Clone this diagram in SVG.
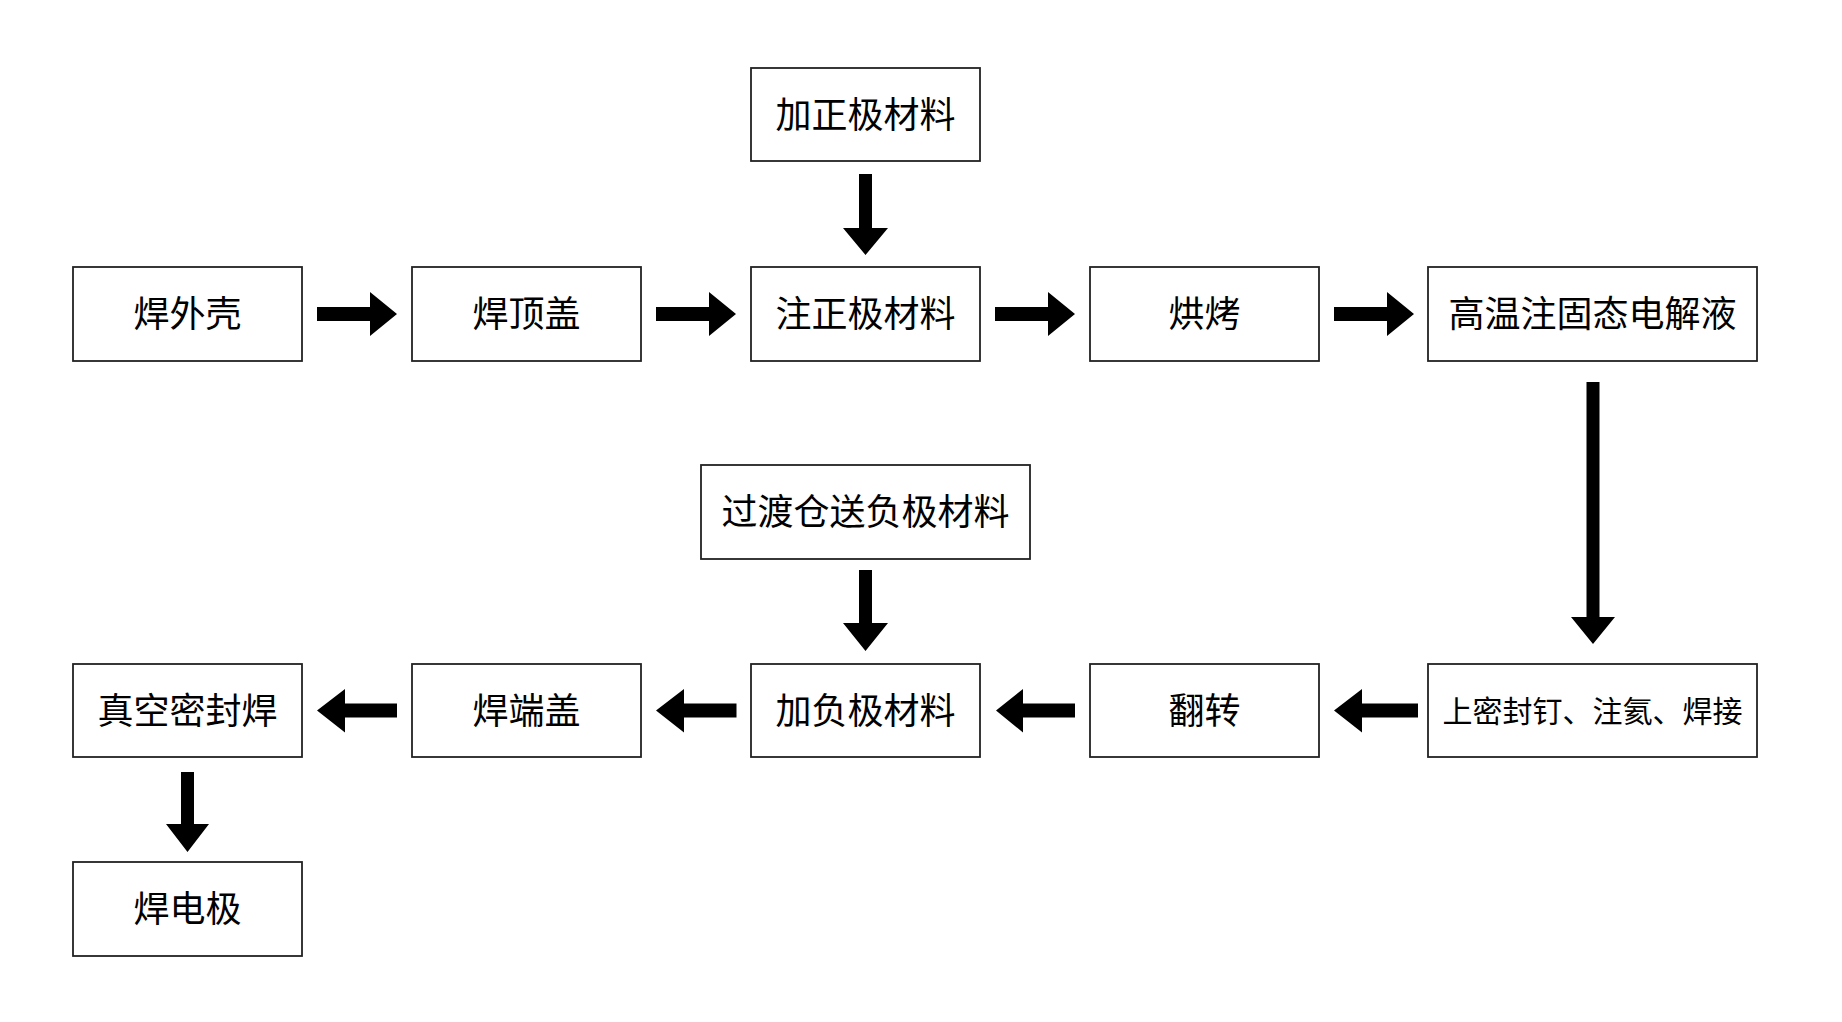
<svg xmlns="http://www.w3.org/2000/svg" width="1842" height="1022" viewBox="0 0 1842 1022">
<style>
.box{fill:#fff;stroke:#222;stroke-width:1.8}
.t{font-family:"Noto Sans CJK SC","Noto Sans",sans-serif;font-size:36px;fill:#000;text-anchor:middle;dominant-baseline:central}
.s{font-size:30px}
.arr{fill:#000}
</style>
<rect width="1842" height="1022" fill="#fff"/>
<g id="n1"><rect class="box" x="73" y="267" width="229" height="94"/><text class="t" x="187.5" y="311">焊外壳</text></g>
<g id="n2"><rect class="box" x="412" y="267" width="229" height="94"/><text class="t" x="526.5" y="311">焊顶盖</text></g>
<g id="n3"><rect class="box" x="751" y="267" width="229" height="94"/><text class="t" x="865.5" y="311">注正极材料</text></g>
<g id="n4"><rect class="box" x="1090" y="267" width="229" height="94"/><text class="t" x="1204.5" y="311">烘烤</text></g>
<g id="n5"><rect class="box" x="1428" y="267" width="329" height="94"/><text class="t" x="1592.5" y="311">高温注固态电解液</text></g>
<g id="n0"><rect class="box" x="751" y="68" width="229" height="93"/><text class="t" x="865.5" y="111.5">加正极材料</text></g>
<g id="n6"><rect class="box" x="1428" y="664" width="329" height="93"/><text class="t s" x="1592.5" y="708.5">上密封钉、注氦、焊接</text></g>
<g id="n7"><rect class="box" x="1090" y="664" width="229" height="93"/><text class="t" x="1204.5" y="707.5">翻转</text></g>
<g id="n8"><rect class="box" x="751" y="664" width="229" height="93"/><text class="t" x="865.5" y="707.5">加负极材料</text></g>
<g id="n9"><rect class="box" x="701" y="465" width="329" height="94"/><text class="t" x="865.5" y="509">过渡仓送负极材料</text></g>
<g id="n10"><rect class="box" x="412" y="664" width="229" height="93"/><text class="t" x="526.5" y="707.5">焊端盖</text></g>
<g id="n11"><rect class="box" x="73" y="664" width="229" height="93"/><text class="t" x="187.5" y="707.5">真空密封焊</text></g>
<g id="n12"><rect class="box" x="73" y="862" width="229" height="94"/><text class="t" x="187.5" y="906">焊电极</text></g>
<g id="connectors" class="arr">
<path d="M317 307H370V292L397 314L370 336V321H317Z"/>
<path d="M656 307H709V292L736 314L709 336V321H656Z"/>
<path d="M995 307H1048V292L1075 314L1048 336V321H995Z"/>
<path d="M1334 307H1387V292L1414 314L1387 336V321H1334Z"/>
<path d="M859 174V228H843L865.5 255L888 228H872V174Z"/>
<path d="M1586.5 382V617H1571L1593 644L1615 617H1599.5V382Z"/>
<path d="M1418 703.5H1362V689L1334 710.5L1362 732.5V717.5H1418Z"/>
<path d="M1075 703.5H1023V689L996 710.5L1023 732.5V717.5H1075Z"/>
<path d="M736.5 703.5H684V689L656 710.5L684 732.5V717.5H736.5Z"/>
<path d="M397 703.5H345V689L317 710.5L345 732.5V717.5H397Z"/>
<path d="M859 570V623H843L865.5 651L888 623H872V570Z"/>
<path d="M181 772V824H166L187.5 852L209 824H194V772Z"/>
</g>
</svg>
